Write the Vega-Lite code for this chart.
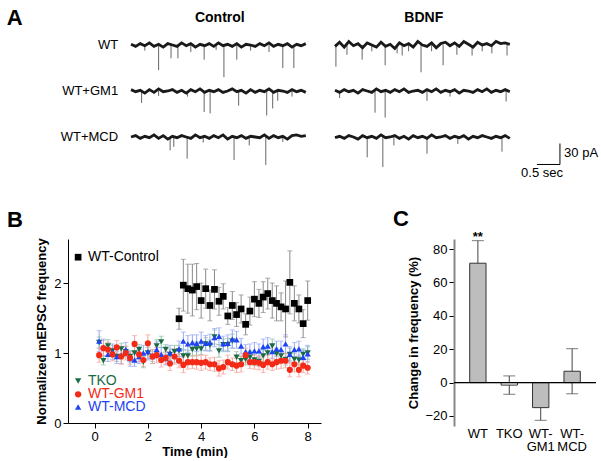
{
"$schema": "https://vega.github.io/schema/vega-lite/v6.json",
"background": "white",
"padding": {"left": 6, "top": 7, "right": 0, "bottom": 0},
"spacing": 27,
"config": {
  "view": {"stroke": null},
  "font": "Liberation Sans",
  "axis": {"labelFont": "Liberation Sans", "titleFont": "Liberation Sans", "labelFontSize": 13, "titleFontSize": 13, "labelColor": "black", "titleColor": "black", "grid": false, "tickColor": "black", "domainColor": "black", "labelOverlap": false},
  "text": {"font": "Liberation Sans"}
},
"datasets": {
  "traces": [
    {"cond":"Control","geno":"WT","kind":"n","t":0,"pA":1},{"cond":"Control","geno":"WT","kind":"n","t":0.1,"pA":-2},{"cond":"Control","geno":"WT","kind":"n","t":0.2,"pA":2},{"cond":"Control","geno":"WT","kind":"n","t":0.3,"pA":-1},{"cond":"Control","geno":"WT","kind":"n","t":0.4,"pA":3},{"cond":"Control","geno":"WT","kind":"n","t":0.5,"pA":-2},{"cond":"Control","geno":"WT","kind":"n","t":0.6,"pA":1},{"cond":"Control","geno":"WT","kind":"n","t":0.7,"pA":-3},{"cond":"Control","geno":"WT","kind":"n","t":0.8,"pA":2},{"cond":"Control","geno":"WT","kind":"n","t":0.9,"pA":0},{"cond":"Control","geno":"WT","kind":"n","t":1.0,"pA":-2},{"cond":"Control","geno":"WT","kind":"n","t":1.1,"pA":3},{"cond":"Control","geno":"WT","kind":"n","t":1.2,"pA":-1},{"cond":"Control","geno":"WT","kind":"n","t":1.3,"pA":2},{"cond":"Control","geno":"WT","kind":"n","t":1.4,"pA":-3},{"cond":"Control","geno":"WT","kind":"n","t":1.5,"pA":1},{"cond":"Control","geno":"WT","kind":"n","t":1.6,"pA":-1},{"cond":"Control","geno":"WT","kind":"n","t":1.7,"pA":2},{"cond":"Control","geno":"WT","kind":"n","t":1.8,"pA":-2},{"cond":"Control","geno":"WT","kind":"n","t":1.9,"pA":3},{"cond":"Control","geno":"WT","kind":"n","t":2.0,"pA":-1},{"cond":"Control","geno":"WT","kind":"n","t":2.1,"pA":1},{"cond":"Control","geno":"WT","kind":"n","t":2.2,"pA":-2},{"cond":"Control","geno":"WT","kind":"n","t":2.3,"pA":2},{"cond":"Control","geno":"WT","kind":"n","t":2.4,"pA":-3},{"cond":"Control","geno":"WT","kind":"n","t":2.5,"pA":1},{"cond":"Control","geno":"WT","kind":"n","t":2.6,"pA":0},{"cond":"Control","geno":"WT","kind":"n","t":2.7,"pA":-2},{"cond":"Control","geno":"WT","kind":"n","t":2.8,"pA":2},{"cond":"Control","geno":"WT","kind":"n","t":2.9,"pA":-1},{"cond":"Control","geno":"WT","kind":"n","t":3.0,"pA":3},{"cond":"Control","geno":"WT","kind":"n","t":3.1,"pA":-2},{"cond":"Control","geno":"WT","kind":"n","t":3.2,"pA":1},{"cond":"Control","geno":"WT","kind":"n","t":3.3,"pA":-1},{"cond":"Control","geno":"WT","kind":"n","t":3.4,"pA":2},{"cond":"Control","geno":"WT","kind":"n","t":3.5,"pA":-3},{"cond":"Control","geno":"WT","kind":"n","t":3.6,"pA":1},{"cond":"Control","geno":"WT","kind":"n","t":3.7,"pA":-1},{"cond":"Control","geno":"WT","kind":"n","t":3.8,"pA":2},
    {"cond":"Control","geno":"WT+GM1","kind":"n","t":0,"pA":2},{"cond":"Control","geno":"WT+GM1","kind":"n","t":0.1,"pA":-1},{"cond":"Control","geno":"WT+GM1","kind":"n","t":0.2,"pA":1},{"cond":"Control","geno":"WT+GM1","kind":"n","t":0.3,"pA":-3},{"cond":"Control","geno":"WT+GM1","kind":"n","t":0.4,"pA":2},{"cond":"Control","geno":"WT+GM1","kind":"n","t":0.5,"pA":-2},{"cond":"Control","geno":"WT+GM1","kind":"n","t":0.6,"pA":3},{"cond":"Control","geno":"WT+GM1","kind":"n","t":0.7,"pA":-1},{"cond":"Control","geno":"WT+GM1","kind":"n","t":0.8,"pA":0},{"cond":"Control","geno":"WT+GM1","kind":"n","t":0.9,"pA":2},{"cond":"Control","geno":"WT+GM1","kind":"n","t":1.0,"pA":-2},{"cond":"Control","geno":"WT+GM1","kind":"n","t":1.1,"pA":1},{"cond":"Control","geno":"WT+GM1","kind":"n","t":1.2,"pA":-3},{"cond":"Control","geno":"WT+GM1","kind":"n","t":1.3,"pA":2},{"cond":"Control","geno":"WT+GM1","kind":"n","t":1.4,"pA":-1},{"cond":"Control","geno":"WT+GM1","kind":"n","t":1.5,"pA":3},{"cond":"Control","geno":"WT+GM1","kind":"n","t":1.6,"pA":-2},{"cond":"Control","geno":"WT+GM1","kind":"n","t":1.7,"pA":1},{"cond":"Control","geno":"WT+GM1","kind":"n","t":1.8,"pA":-1},{"cond":"Control","geno":"WT+GM1","kind":"n","t":1.9,"pA":2},{"cond":"Control","geno":"WT+GM1","kind":"n","t":2.0,"pA":-2},{"cond":"Control","geno":"WT+GM1","kind":"n","t":2.1,"pA":0},{"cond":"Control","geno":"WT+GM1","kind":"n","t":2.2,"pA":3},{"cond":"Control","geno":"WT+GM1","kind":"n","t":2.3,"pA":-1},{"cond":"Control","geno":"WT+GM1","kind":"n","t":2.4,"pA":1},{"cond":"Control","geno":"WT+GM1","kind":"n","t":2.5,"pA":-3},{"cond":"Control","geno":"WT+GM1","kind":"n","t":2.6,"pA":2},{"cond":"Control","geno":"WT+GM1","kind":"n","t":2.7,"pA":-2},{"cond":"Control","geno":"WT+GM1","kind":"n","t":2.8,"pA":1},{"cond":"Control","geno":"WT+GM1","kind":"n","t":2.9,"pA":-1},{"cond":"Control","geno":"WT+GM1","kind":"n","t":3.0,"pA":3},{"cond":"Control","geno":"WT+GM1","kind":"n","t":3.1,"pA":-2},{"cond":"Control","geno":"WT+GM1","kind":"n","t":3.2,"pA":1},{"cond":"Control","geno":"WT+GM1","kind":"n","t":3.3,"pA":0},{"cond":"Control","geno":"WT+GM1","kind":"n","t":3.4,"pA":-2},{"cond":"Control","geno":"WT+GM1","kind":"n","t":3.5,"pA":2},{"cond":"Control","geno":"WT+GM1","kind":"n","t":3.6,"pA":-1},{"cond":"Control","geno":"WT+GM1","kind":"n","t":3.7,"pA":1},{"cond":"Control","geno":"WT+GM1","kind":"n","t":3.8,"pA":-2},
    {"cond":"Control","geno":"WT+MCD","kind":"n","t":0,"pA":0},{"cond":"Control","geno":"WT+MCD","kind":"n","t":0.1,"pA":2},{"cond":"Control","geno":"WT+MCD","kind":"n","t":0.2,"pA":-2},{"cond":"Control","geno":"WT+MCD","kind":"n","t":0.3,"pA":1},{"cond":"Control","geno":"WT+MCD","kind":"n","t":0.4,"pA":-1},{"cond":"Control","geno":"WT+MCD","kind":"n","t":0.5,"pA":3},{"cond":"Control","geno":"WT+MCD","kind":"n","t":0.6,"pA":-2},{"cond":"Control","geno":"WT+MCD","kind":"n","t":0.7,"pA":2},{"cond":"Control","geno":"WT+MCD","kind":"n","t":0.8,"pA":-3},{"cond":"Control","geno":"WT+MCD","kind":"n","t":0.9,"pA":1},{"cond":"Control","geno":"WT+MCD","kind":"n","t":1.0,"pA":-1},{"cond":"Control","geno":"WT+MCD","kind":"n","t":1.1,"pA":2},{"cond":"Control","geno":"WT+MCD","kind":"n","t":1.2,"pA":0},{"cond":"Control","geno":"WT+MCD","kind":"n","t":1.3,"pA":-2},{"cond":"Control","geno":"WT+MCD","kind":"n","t":1.4,"pA":3},{"cond":"Control","geno":"WT+MCD","kind":"n","t":1.5,"pA":-1},{"cond":"Control","geno":"WT+MCD","kind":"n","t":1.6,"pA":1},{"cond":"Control","geno":"WT+MCD","kind":"n","t":1.7,"pA":-2},{"cond":"Control","geno":"WT+MCD","kind":"n","t":1.8,"pA":2},{"cond":"Control","geno":"WT+MCD","kind":"n","t":1.9,"pA":-1},{"cond":"Control","geno":"WT+MCD","kind":"n","t":2.0,"pA":3},{"cond":"Control","geno":"WT+MCD","kind":"n","t":2.1,"pA":-3},{"cond":"Control","geno":"WT+MCD","kind":"n","t":2.2,"pA":1},{"cond":"Control","geno":"WT+MCD","kind":"n","t":2.3,"pA":-1},{"cond":"Control","geno":"WT+MCD","kind":"n","t":2.4,"pA":2},{"cond":"Control","geno":"WT+MCD","kind":"n","t":2.5,"pA":-2},{"cond":"Control","geno":"WT+MCD","kind":"n","t":2.6,"pA":1},{"cond":"Control","geno":"WT+MCD","kind":"n","t":2.7,"pA":0},{"cond":"Control","geno":"WT+MCD","kind":"n","t":2.8,"pA":-1},{"cond":"Control","geno":"WT+MCD","kind":"n","t":2.9,"pA":3},{"cond":"Control","geno":"WT+MCD","kind":"n","t":3.0,"pA":-2},{"cond":"Control","geno":"WT+MCD","kind":"n","t":3.1,"pA":2},{"cond":"Control","geno":"WT+MCD","kind":"n","t":3.2,"pA":-1},{"cond":"Control","geno":"WT+MCD","kind":"n","t":3.3,"pA":1},{"cond":"Control","geno":"WT+MCD","kind":"n","t":3.4,"pA":-3},{"cond":"Control","geno":"WT+MCD","kind":"n","t":3.5,"pA":2},{"cond":"Control","geno":"WT+MCD","kind":"n","t":3.6,"pA":3},{"cond":"Control","geno":"WT+MCD","kind":"n","t":3.7,"pA":1},{"cond":"Control","geno":"WT+MCD","kind":"n","t":3.8,"pA":2},
    {"cond":"BDNF","geno":"WT","kind":"n","t":0,"pA":-2},{"cond":"BDNF","geno":"WT","kind":"n","t":0.1,"pA":4},{"cond":"BDNF","geno":"WT","kind":"n","t":0.2,"pA":-3},{"cond":"BDNF","geno":"WT","kind":"n","t":0.3,"pA":5},{"cond":"BDNF","geno":"WT","kind":"n","t":0.4,"pA":-1},{"cond":"BDNF","geno":"WT","kind":"n","t":0.5,"pA":2},{"cond":"BDNF","geno":"WT","kind":"n","t":0.6,"pA":-4},{"cond":"BDNF","geno":"WT","kind":"n","t":0.7,"pA":3},{"cond":"BDNF","geno":"WT","kind":"n","t":0.8,"pA":0},{"cond":"BDNF","geno":"WT","kind":"n","t":0.9,"pA":-3},{"cond":"BDNF","geno":"WT","kind":"n","t":1.0,"pA":4},{"cond":"BDNF","geno":"WT","kind":"n","t":1.1,"pA":-2},{"cond":"BDNF","geno":"WT","kind":"n","t":1.2,"pA":1},{"cond":"BDNF","geno":"WT","kind":"n","t":1.3,"pA":-5},{"cond":"BDNF","geno":"WT","kind":"n","t":1.4,"pA":3},{"cond":"BDNF","geno":"WT","kind":"n","t":1.5,"pA":-1},{"cond":"BDNF","geno":"WT","kind":"n","t":1.6,"pA":2},{"cond":"BDNF","geno":"WT","kind":"n","t":1.7,"pA":-3},{"cond":"BDNF","geno":"WT","kind":"n","t":1.8,"pA":5},{"cond":"BDNF","geno":"WT","kind":"n","t":1.9,"pA":0},{"cond":"BDNF","geno":"WT","kind":"n","t":2.0,"pA":-2},{"cond":"BDNF","geno":"WT","kind":"n","t":2.1,"pA":3},{"cond":"BDNF","geno":"WT","kind":"n","t":2.2,"pA":-4},{"cond":"BDNF","geno":"WT","kind":"n","t":2.3,"pA":2},{"cond":"BDNF","geno":"WT","kind":"n","t":2.4,"pA":4},{"cond":"BDNF","geno":"WT","kind":"n","t":2.5,"pA":-1},{"cond":"BDNF","geno":"WT","kind":"n","t":2.6,"pA":3},{"cond":"BDNF","geno":"WT","kind":"n","t":2.7,"pA":-2},{"cond":"BDNF","geno":"WT","kind":"n","t":2.8,"pA":5},{"cond":"BDNF","geno":"WT","kind":"n","t":2.9,"pA":1},{"cond":"BDNF","geno":"WT","kind":"n","t":3.0,"pA":-3},{"cond":"BDNF","geno":"WT","kind":"n","t":3.1,"pA":4},{"cond":"BDNF","geno":"WT","kind":"n","t":3.2,"pA":0},{"cond":"BDNF","geno":"WT","kind":"n","t":3.3,"pA":2},{"cond":"BDNF","geno":"WT","kind":"n","t":3.4,"pA":-1},{"cond":"BDNF","geno":"WT","kind":"n","t":3.5,"pA":5},{"cond":"BDNF","geno":"WT","kind":"n","t":3.6,"pA":2},{"cond":"BDNF","geno":"WT","kind":"n","t":3.7,"pA":3},{"cond":"BDNF","geno":"WT","kind":"n","t":3.8,"pA":1},
    {"cond":"BDNF","geno":"WT+GM1","kind":"n","t":0,"pA":1},{"cond":"BDNF","geno":"WT+GM1","kind":"n","t":0.1,"pA":-2},{"cond":"BDNF","geno":"WT+GM1","kind":"n","t":0.2,"pA":2},{"cond":"BDNF","geno":"WT+GM1","kind":"n","t":0.3,"pA":-1},{"cond":"BDNF","geno":"WT+GM1","kind":"n","t":0.4,"pA":1},{"cond":"BDNF","geno":"WT+GM1","kind":"n","t":0.5,"pA":-3},{"cond":"BDNF","geno":"WT+GM1","kind":"n","t":0.6,"pA":2},{"cond":"BDNF","geno":"WT+GM1","kind":"n","t":0.7,"pA":0},{"cond":"BDNF","geno":"WT+GM1","kind":"n","t":0.8,"pA":-2},{"cond":"BDNF","geno":"WT+GM1","kind":"n","t":0.9,"pA":3},{"cond":"BDNF","geno":"WT+GM1","kind":"n","t":1.0,"pA":-1},{"cond":"BDNF","geno":"WT+GM1","kind":"n","t":1.1,"pA":1},{"cond":"BDNF","geno":"WT+GM1","kind":"n","t":1.2,"pA":-2},{"cond":"BDNF","geno":"WT+GM1","kind":"n","t":1.3,"pA":2},{"cond":"BDNF","geno":"WT+GM1","kind":"n","t":1.4,"pA":-1},{"cond":"BDNF","geno":"WT+GM1","kind":"n","t":1.5,"pA":3},{"cond":"BDNF","geno":"WT+GM1","kind":"n","t":1.6,"pA":-2},{"cond":"BDNF","geno":"WT+GM1","kind":"n","t":1.7,"pA":0},{"cond":"BDNF","geno":"WT+GM1","kind":"n","t":1.8,"pA":1},{"cond":"BDNF","geno":"WT+GM1","kind":"n","t":1.9,"pA":-2},{"cond":"BDNF","geno":"WT+GM1","kind":"n","t":2.0,"pA":2},{"cond":"BDNF","geno":"WT+GM1","kind":"n","t":2.1,"pA":-1},{"cond":"BDNF","geno":"WT+GM1","kind":"n","t":2.2,"pA":3},{"cond":"BDNF","geno":"WT+GM1","kind":"n","t":2.3,"pA":-2},{"cond":"BDNF","geno":"WT+GM1","kind":"n","t":2.4,"pA":1},{"cond":"BDNF","geno":"WT+GM1","kind":"n","t":2.5,"pA":-1},{"cond":"BDNF","geno":"WT+GM1","kind":"n","t":2.6,"pA":2},{"cond":"BDNF","geno":"WT+GM1","kind":"n","t":2.7,"pA":-3},{"cond":"BDNF","geno":"WT+GM1","kind":"n","t":2.8,"pA":1},{"cond":"BDNF","geno":"WT+GM1","kind":"n","t":2.9,"pA":0},{"cond":"BDNF","geno":"WT+GM1","kind":"n","t":3.0,"pA":-2},{"cond":"BDNF","geno":"WT+GM1","kind":"n","t":3.1,"pA":2},{"cond":"BDNF","geno":"WT+GM1","kind":"n","t":3.2,"pA":-1},{"cond":"BDNF","geno":"WT+GM1","kind":"n","t":3.3,"pA":3},{"cond":"BDNF","geno":"WT+GM1","kind":"n","t":3.4,"pA":-2},{"cond":"BDNF","geno":"WT+GM1","kind":"n","t":3.5,"pA":1},{"cond":"BDNF","geno":"WT+GM1","kind":"n","t":3.6,"pA":-1},{"cond":"BDNF","geno":"WT+GM1","kind":"n","t":3.7,"pA":2},{"cond":"BDNF","geno":"WT+GM1","kind":"n","t":3.8,"pA":-1},
    {"cond":"BDNF","geno":"WT+MCD","kind":"n","t":0,"pA":-1},{"cond":"BDNF","geno":"WT+MCD","kind":"n","t":0.1,"pA":1},{"cond":"BDNF","geno":"WT+MCD","kind":"n","t":0.2,"pA":-2},{"cond":"BDNF","geno":"WT+MCD","kind":"n","t":0.3,"pA":2},{"cond":"BDNF","geno":"WT+MCD","kind":"n","t":0.4,"pA":0},{"cond":"BDNF","geno":"WT+MCD","kind":"n","t":0.5,"pA":-3},{"cond":"BDNF","geno":"WT+MCD","kind":"n","t":0.6,"pA":2},{"cond":"BDNF","geno":"WT+MCD","kind":"n","t":0.7,"pA":-1},{"cond":"BDNF","geno":"WT+MCD","kind":"n","t":0.8,"pA":1},{"cond":"BDNF","geno":"WT+MCD","kind":"n","t":0.9,"pA":-2},{"cond":"BDNF","geno":"WT+MCD","kind":"n","t":1.0,"pA":3},{"cond":"BDNF","geno":"WT+MCD","kind":"n","t":1.1,"pA":-1},{"cond":"BDNF","geno":"WT+MCD","kind":"n","t":1.2,"pA":0},{"cond":"BDNF","geno":"WT+MCD","kind":"n","t":1.3,"pA":2},{"cond":"BDNF","geno":"WT+MCD","kind":"n","t":1.4,"pA":-2},{"cond":"BDNF","geno":"WT+MCD","kind":"n","t":1.5,"pA":1},{"cond":"BDNF","geno":"WT+MCD","kind":"n","t":1.6,"pA":-3},{"cond":"BDNF","geno":"WT+MCD","kind":"n","t":1.7,"pA":2},{"cond":"BDNF","geno":"WT+MCD","kind":"n","t":1.8,"pA":-1},{"cond":"BDNF","geno":"WT+MCD","kind":"n","t":1.9,"pA":1},{"cond":"BDNF","geno":"WT+MCD","kind":"n","t":2.0,"pA":-2},{"cond":"BDNF","geno":"WT+MCD","kind":"n","t":2.1,"pA":3},{"cond":"BDNF","geno":"WT+MCD","kind":"n","t":2.2,"pA":-1},{"cond":"BDNF","geno":"WT+MCD","kind":"n","t":2.3,"pA":0},{"cond":"BDNF","geno":"WT+MCD","kind":"n","t":2.4,"pA":2},{"cond":"BDNF","geno":"WT+MCD","kind":"n","t":2.5,"pA":-2},{"cond":"BDNF","geno":"WT+MCD","kind":"n","t":2.6,"pA":1},{"cond":"BDNF","geno":"WT+MCD","kind":"n","t":2.7,"pA":-1},{"cond":"BDNF","geno":"WT+MCD","kind":"n","t":2.8,"pA":2},{"cond":"BDNF","geno":"WT+MCD","kind":"n","t":2.9,"pA":-3},{"cond":"BDNF","geno":"WT+MCD","kind":"n","t":3.0,"pA":1},{"cond":"BDNF","geno":"WT+MCD","kind":"n","t":3.1,"pA":-1},{"cond":"BDNF","geno":"WT+MCD","kind":"n","t":3.2,"pA":2},{"cond":"BDNF","geno":"WT+MCD","kind":"n","t":3.3,"pA":0},{"cond":"BDNF","geno":"WT+MCD","kind":"n","t":3.4,"pA":-2},{"cond":"BDNF","geno":"WT+MCD","kind":"n","t":3.5,"pA":1},{"cond":"BDNF","geno":"WT+MCD","kind":"n","t":3.6,"pA":-1},{"cond":"BDNF","geno":"WT+MCD","kind":"n","t":3.7,"pA":2},{"cond":"BDNF","geno":"WT+MCD","kind":"n","t":3.8,"pA":-2},
    {"cond":"Control","geno":"WT","kind":"e","t":0.3,"pA":-8},{"cond":"Control","geno":"WT","kind":"e","t":0.6,"pA":-36},{"cond":"Control","geno":"WT","kind":"e","t":0.87,"pA":-19},{"cond":"Control","geno":"WT","kind":"e","t":1.02,"pA":-19},{"cond":"Control","geno":"WT","kind":"e","t":1.3,"pA":-10},{"cond":"Control","geno":"WT","kind":"e","t":1.59,"pA":-21},{"cond":"Control","geno":"WT","kind":"e","t":1.85,"pA":-7},{"cond":"Control","geno":"WT","kind":"e","t":2.02,"pA":-46},{"cond":"Control","geno":"WT","kind":"e","t":2.3,"pA":-21},{"cond":"Control","geno":"WT","kind":"e","t":2.6,"pA":-8},{"cond":"Control","geno":"WT","kind":"e","t":3.0,"pA":-10},{"cond":"Control","geno":"WT","kind":"e","t":3.3,"pA":-33},{"cond":"Control","geno":"WT","kind":"e","t":3.54,"pA":-33},
    {"cond":"Control","geno":"WT+GM1","kind":"e","t":0.23,"pA":-17},{"cond":"Control","geno":"WT+GM1","kind":"e","t":0.6,"pA":-7},{"cond":"Control","geno":"WT+GM1","kind":"e","t":1.23,"pA":-8},{"cond":"Control","geno":"WT+GM1","kind":"e","t":1.59,"pA":-30},{"cond":"Control","geno":"WT+GM1","kind":"e","t":1.72,"pA":-32},{"cond":"Control","geno":"WT+GM1","kind":"e","t":2.34,"pA":-21},{"cond":"Control","geno":"WT+GM1","kind":"e","t":2.95,"pA":-35},{"cond":"Control","geno":"WT+GM1","kind":"e","t":3.08,"pA":-25},{"cond":"Control","geno":"WT+GM1","kind":"e","t":3.19,"pA":-14},{"cond":"Control","geno":"WT+GM1","kind":"e","t":3.5,"pA":-8},
    {"cond":"Control","geno":"WT+MCD","kind":"e","t":0.85,"pA":-19},{"cond":"Control","geno":"WT+MCD","kind":"e","t":0.93,"pA":-14},{"cond":"Control","geno":"WT+MCD","kind":"e","t":1.22,"pA":-31},{"cond":"Control","geno":"WT+MCD","kind":"e","t":1.57,"pA":-8},{"cond":"Control","geno":"WT+MCD","kind":"e","t":2.24,"pA":-33},{"cond":"Control","geno":"WT+MCD","kind":"e","t":2.57,"pA":-12},{"cond":"Control","geno":"WT+MCD","kind":"e","t":2.93,"pA":-40},{"cond":"Control","geno":"WT+MCD","kind":"e","t":3.3,"pA":-7},
    {"cond":"BDNF","geno":"WT","kind":"e","t":0.02,"pA":-31},{"cond":"BDNF","geno":"WT","kind":"e","t":0.26,"pA":-14},{"cond":"BDNF","geno":"WT","kind":"e","t":0.59,"pA":-21},{"cond":"BDNF","geno":"WT","kind":"e","t":0.8,"pA":-9},{"cond":"BDNF","geno":"WT","kind":"e","t":1.09,"pA":-29},{"cond":"BDNF","geno":"WT","kind":"e","t":1.35,"pA":-12},{"cond":"BDNF","geno":"WT","kind":"e","t":1.46,"pA":-15},{"cond":"BDNF","geno":"WT","kind":"e","t":1.6,"pA":-9},{"cond":"BDNF","geno":"WT","kind":"e","t":1.87,"pA":-39},{"cond":"BDNF","geno":"WT","kind":"e","t":2.1,"pA":-9},{"cond":"BDNF","geno":"WT","kind":"e","t":2.35,"pA":-29},{"cond":"BDNF","geno":"WT","kind":"e","t":2.65,"pA":-14},{"cond":"BDNF","geno":"WT","kind":"e","t":2.98,"pA":-15},{"cond":"BDNF","geno":"WT","kind":"e","t":3.2,"pA":-9},{"cond":"BDNF","geno":"WT","kind":"e","t":3.41,"pA":-12},{"cond":"BDNF","geno":"WT","kind":"e","t":3.74,"pA":-15},
    {"cond":"BDNF","geno":"WT+GM1","kind":"e","t":0.1,"pA":-10},{"cond":"BDNF","geno":"WT+GM1","kind":"e","t":0.87,"pA":-31},{"cond":"BDNF","geno":"WT+GM1","kind":"e","t":1.09,"pA":-38},{"cond":"BDNF","geno":"WT+GM1","kind":"e","t":2.0,"pA":-14},{"cond":"BDNF","geno":"WT+GM1","kind":"e","t":2.5,"pA":-8},{"cond":"BDNF","geno":"WT+GM1","kind":"e","t":3.72,"pA":-15},
    {"cond":"BDNF","geno":"WT+MCD","kind":"e","t":0.7,"pA":-29},{"cond":"BDNF","geno":"WT+MCD","kind":"e","t":1.04,"pA":-43},{"cond":"BDNF","geno":"WT+MCD","kind":"e","t":1.28,"pA":-12},{"cond":"BDNF","geno":"WT+MCD","kind":"e","t":2.0,"pA":-24},{"cond":"BDNF","geno":"WT+MCD","kind":"e","t":2.67,"pA":-10},{"cond":"BDNF","geno":"WT+MCD","kind":"e","t":3.63,"pA":-21}
  ],
  "mepsc": [
    {"series":"TKO","t":0.17,"v":1.15,"e":0.08},{"series":"TKO","t":0.33,"v":0.89,"e":0.06},{"series":"TKO","t":0.5,"v":1.1,"e":0.09},{"series":"TKO","t":0.67,"v":1.03,"e":0.08},{"series":"TKO","t":0.83,"v":0.95,"e":0.07},{"series":"TKO","t":1.0,"v":1.06,"e":0.08},{"series":"TKO","t":1.17,"v":1.02,"e":0.07},{"series":"TKO","t":1.33,"v":0.95,"e":0.08},{"series":"TKO","t":1.5,"v":1.0,"e":0.09},{"series":"TKO","t":1.67,"v":1.05,"e":0.07},{"series":"TKO","t":1.83,"v":0.87,"e":0.08},{"series":"TKO","t":2.0,"v":1.0,"e":0.08},{"series":"TKO","t":2.17,"v":0.95,"e":0.07},{"series":"TKO","t":2.33,"v":1.1,"e":0.09},{"series":"TKO","t":2.5,"v":1.16,"e":0.08},{"series":"TKO","t":2.67,"v":1.05,"e":0.07},{"series":"TKO","t":2.83,"v":0.98,"e":0.08},{"series":"TKO","t":3.0,"v":1.02,"e":0.09},{"series":"TKO","t":3.17,"v":1.03,"e":0.08},{"series":"TKO","t":3.33,"v":0.96,"e":0.09},{"series":"TKO","t":3.5,"v":0.96,"e":0.08},{"series":"TKO","t":3.67,"v":1.05,"e":0.09},{"series":"TKO","t":3.83,"v":1.06,"e":0.1},{"series":"TKO","t":4.0,"v":1.06,"e":0.08},{"series":"TKO","t":4.17,"v":1.13,"e":0.09},{"series":"TKO","t":4.33,"v":1.11,"e":0.08},{"series":"TKO","t":4.5,"v":1.23,"e":0.1},{"series":"TKO","t":4.67,"v":1.03,"e":0.09},{"series":"TKO","t":4.83,"v":1.12,"e":0.08},{"series":"TKO","t":5.0,"v":1.12,"e":0.09},{"series":"TKO","t":5.17,"v":1.17,"e":0.1},{"series":"TKO","t":5.33,"v":0.94,"e":0.08},{"series":"TKO","t":5.5,"v":0.89,"e":0.07},{"series":"TKO","t":5.67,"v":0.91,"e":0.08},{"series":"TKO","t":5.83,"v":0.94,"e":0.09},{"series":"TKO","t":6.0,"v":0.9,"e":0.08},{"series":"TKO","t":6.17,"v":0.88,"e":0.07},{"series":"TKO","t":6.33,"v":0.96,"e":0.08},{"series":"TKO","t":6.5,"v":1.0,"e":0.09},{"series":"TKO","t":6.67,"v":1.1,"e":0.1},{"series":"TKO","t":6.83,"v":0.99,"e":0.08},{"series":"TKO","t":7.0,"v":0.96,"e":0.07},{"series":"TKO","t":7.17,"v":0.91,"e":0.08},{"series":"TKO","t":7.33,"v":0.98,"e":0.09},{"series":"TKO","t":7.5,"v":0.91,"e":0.08},{"series":"TKO","t":7.67,"v":0.9,"e":0.07},{"series":"TKO","t":7.83,"v":0.98,"e":0.08},{"series":"TKO","t":8.0,"v":1.0,"e":0.09},
    {"series":"WT-MCD","t":0.17,"v":1.17,"e":0.15},{"series":"WT-MCD","t":0.33,"v":1.08,"e":0.12},{"series":"WT-MCD","t":0.5,"v":0.98,"e":0.1},{"series":"WT-MCD","t":0.67,"v":1.02,"e":0.11},{"series":"WT-MCD","t":0.83,"v":0.95,"e":0.1},{"series":"WT-MCD","t":1.0,"v":0.97,"e":0.12},{"series":"WT-MCD","t":1.17,"v":1.05,"e":0.1},{"series":"WT-MCD","t":1.33,"v":0.92,"e":0.11},{"series":"WT-MCD","t":1.5,"v":0.9,"e":0.09},{"series":"WT-MCD","t":1.67,"v":0.95,"e":0.1},{"series":"WT-MCD","t":1.83,"v":1.0,"e":0.11},{"series":"WT-MCD","t":2.0,"v":1.02,"e":0.12},{"series":"WT-MCD","t":2.17,"v":0.95,"e":0.1},{"series":"WT-MCD","t":2.33,"v":1.05,"e":0.11},{"series":"WT-MCD","t":2.5,"v":0.98,"e":0.1},{"series":"WT-MCD","t":2.67,"v":0.92,"e":0.09},{"series":"WT-MCD","t":2.83,"v":1.0,"e":0.11},{"series":"WT-MCD","t":3.0,"v":0.96,"e":0.1},{"series":"WT-MCD","t":3.17,"v":1.06,"e":0.11},{"series":"WT-MCD","t":3.33,"v":1.17,"e":0.13},{"series":"WT-MCD","t":3.5,"v":1.13,"e":0.12},{"series":"WT-MCD","t":3.67,"v":1.15,"e":0.11},{"series":"WT-MCD","t":3.83,"v":1.14,"e":0.12},{"series":"WT-MCD","t":4.0,"v":1.17,"e":0.13},{"series":"WT-MCD","t":4.17,"v":1.14,"e":0.11},{"series":"WT-MCD","t":4.33,"v":1.15,"e":0.12},{"series":"WT-MCD","t":4.5,"v":1.22,"e":0.13},{"series":"WT-MCD","t":4.67,"v":1.24,"e":0.12},{"series":"WT-MCD","t":4.83,"v":1.13,"e":0.11},{"series":"WT-MCD","t":5.0,"v":1.14,"e":0.12},{"series":"WT-MCD","t":5.17,"v":1.2,"e":0.13},{"series":"WT-MCD","t":5.33,"v":1.19,"e":0.12},{"series":"WT-MCD","t":5.5,"v":1.1,"e":0.11},{"series":"WT-MCD","t":5.67,"v":1.02,"e":0.1},{"series":"WT-MCD","t":5.83,"v":1.02,"e":0.11},{"series":"WT-MCD","t":6.0,"v":1.03,"e":0.12},{"series":"WT-MCD","t":6.17,"v":1.03,"e":0.1},{"series":"WT-MCD","t":6.33,"v":1.09,"e":0.11},{"series":"WT-MCD","t":6.5,"v":1.1,"e":0.12},{"series":"WT-MCD","t":6.67,"v":1.02,"e":0.1},{"series":"WT-MCD","t":6.83,"v":1.06,"e":0.11},{"series":"WT-MCD","t":7.0,"v":1.05,"e":0.12},{"series":"WT-MCD","t":7.17,"v":1.13,"e":0.13},{"series":"WT-MCD","t":7.33,"v":0.98,"e":0.11},{"series":"WT-MCD","t":7.5,"v":1.05,"e":0.1},{"series":"WT-MCD","t":7.67,"v":1.06,"e":0.11},{"series":"WT-MCD","t":7.83,"v":0.94,"e":0.1},{"series":"WT-MCD","t":8.0,"v":0.99,"e":0.12},
    {"series":"WT-GM1","t":0.17,"v":0.97,"e":0.1},{"series":"WT-GM1","t":0.33,"v":1.07,"e":0.11},{"series":"WT-GM1","t":0.5,"v":1.05,"e":0.1},{"series":"WT-GM1","t":0.67,"v":0.98,"e":0.09},{"series":"WT-GM1","t":0.83,"v":1.08,"e":0.1},{"series":"WT-GM1","t":1.0,"v":0.95,"e":0.11},{"series":"WT-GM1","t":1.17,"v":1.0,"e":0.1},{"series":"WT-GM1","t":1.33,"v":0.93,"e":0.09},{"series":"WT-GM1","t":1.5,"v":1.13,"e":0.12},{"series":"WT-GM1","t":1.67,"v":0.98,"e":0.1},{"series":"WT-GM1","t":1.83,"v":0.9,"e":0.09},{"series":"WT-GM1","t":2.0,"v":1.14,"e":0.12},{"series":"WT-GM1","t":2.17,"v":0.95,"e":0.1},{"series":"WT-GM1","t":2.33,"v":0.97,"e":0.11},{"series":"WT-GM1","t":2.5,"v":0.9,"e":0.1},{"series":"WT-GM1","t":2.67,"v":0.93,"e":0.09},{"series":"WT-GM1","t":2.83,"v":0.85,"e":0.1},{"series":"WT-GM1","t":3.0,"v":0.95,"e":0.11},{"series":"WT-GM1","t":3.17,"v":0.89,"e":0.1},{"series":"WT-GM1","t":3.33,"v":0.83,"e":0.11},{"series":"WT-GM1","t":3.5,"v":0.87,"e":0.1},{"series":"WT-GM1","t":3.67,"v":0.87,"e":0.09},{"series":"WT-GM1","t":3.83,"v":0.87,"e":0.1},{"series":"WT-GM1","t":4.0,"v":0.86,"e":0.11},{"series":"WT-GM1","t":4.17,"v":0.87,"e":0.1},{"series":"WT-GM1","t":4.33,"v":0.84,"e":0.09},{"series":"WT-GM1","t":4.5,"v":0.84,"e":0.1},{"series":"WT-GM1","t":4.67,"v":0.78,"e":0.11},{"series":"WT-GM1","t":4.83,"v":0.8,"e":0.1},{"series":"WT-GM1","t":5.0,"v":0.87,"e":0.1},{"series":"WT-GM1","t":5.17,"v":0.84,"e":0.09},{"series":"WT-GM1","t":5.33,"v":0.82,"e":0.1},{"series":"WT-GM1","t":5.5,"v":0.84,"e":0.11},{"series":"WT-GM1","t":5.67,"v":0.97,"e":0.1},{"series":"WT-GM1","t":5.83,"v":0.87,"e":0.09},{"series":"WT-GM1","t":6.0,"v":0.87,"e":0.1},{"series":"WT-GM1","t":6.17,"v":0.86,"e":0.1},{"series":"WT-GM1","t":6.33,"v":0.83,"e":0.11},{"series":"WT-GM1","t":6.5,"v":0.87,"e":0.1},{"series":"WT-GM1","t":6.67,"v":0.84,"e":0.09},{"series":"WT-GM1","t":6.83,"v":0.87,"e":0.1},{"series":"WT-GM1","t":7.0,"v":0.89,"e":0.11},{"series":"WT-GM1","t":7.17,"v":0.89,"e":0.1},{"series":"WT-GM1","t":7.33,"v":0.76,"e":0.1},{"series":"WT-GM1","t":7.5,"v":0.84,"e":0.11},{"series":"WT-GM1","t":7.67,"v":0.76,"e":0.1},{"series":"WT-GM1","t":7.83,"v":0.82,"e":0.1},{"series":"WT-GM1","t":8.0,"v":0.79,"e":0.09},
    {"series":"WT-Control","t":3.17,"v":1.49,"e":0.15},{"series":"WT-Control","t":3.33,"v":1.97,"e":0.37},{"series":"WT-Control","t":3.5,"v":1.92,"e":0.35},{"series":"WT-Control","t":3.67,"v":1.9,"e":0.37},{"series":"WT-Control","t":3.83,"v":1.95,"e":0.33},{"series":"WT-Control","t":4.0,"v":1.75,"e":0.25},{"series":"WT-Control","t":4.17,"v":1.92,"e":0.28},{"series":"WT-Control","t":4.33,"v":1.68,"e":0.22},{"series":"WT-Control","t":4.5,"v":1.91,"e":0.28},{"series":"WT-Control","t":4.67,"v":1.74,"e":0.2},{"series":"WT-Control","t":4.83,"v":1.81,"e":0.18},{"series":"WT-Control","t":5.0,"v":1.53,"e":0.12},{"series":"WT-Control","t":5.17,"v":1.68,"e":0.2},{"series":"WT-Control","t":5.33,"v":1.55,"e":0.17},{"series":"WT-Control","t":5.5,"v":1.63,"e":0.2},{"series":"WT-Control","t":5.67,"v":1.41,"e":0.15},{"series":"WT-Control","t":5.83,"v":1.6,"e":0.2},{"series":"WT-Control","t":6.0,"v":1.77,"e":0.25},{"series":"WT-Control","t":6.17,"v":1.71,"e":0.2},{"series":"WT-Control","t":6.33,"v":1.8,"e":0.22},{"series":"WT-Control","t":6.5,"v":1.85,"e":0.22},{"series":"WT-Control","t":6.67,"v":1.75,"e":0.25},{"series":"WT-Control","t":6.83,"v":1.71,"e":0.25},{"series":"WT-Control","t":7.0,"v":1.66,"e":0.2},{"series":"WT-Control","t":7.17,"v":1.63,"e":0.4},{"series":"WT-Control","t":7.33,"v":2.01,"e":0.45},{"series":"WT-Control","t":7.5,"v":1.71,"e":0.25},{"series":"WT-Control","t":7.67,"v":1.63,"e":0.2},{"series":"WT-Control","t":7.83,"v":1.42,"e":0.2},{"series":"WT-Control","t":8.0,"v":1.75,"e":0.28}
  ],
  "change": [
    {"grp":"WT","chg":71.5,"err":13.5,"sig":"**"},
    {"grp":"TKO","chg":-1.5,"err":5.5,"sig":""},
    {"grp":"WT-GM1","chg":-15,"err":7.6,"sig":""},
    {"grp":"WT-MCD","chg":6.8,"err":13.5,"sig":""}
  ]
},
"vconcat": [
  {
    "spacing": 17,
    "hconcat": [
      {
        "data": {"name": "traces"},
        "transform": [{"filter": "datum.cond === 'Control'"}],
        "facet": {"row": {"field": "geno", "type": "nominal", "sort": ["WT", "WT+GM1", "WT+MCD"], "title": null, "header": null}},
        "spacing": 0,
        "bounds": "flush",
        "spec": {
          "width": 239,
          "height": 46,
          "layer": [
            {
              "transform": [{"filter": "datum.kind === 'e'"}],
              "mark": {"type": "rule", "color": "#666", "strokeWidth": 1},
              "encoding": {
                "x": {"field": "t", "type": "quantitative", "scale": {"domain": [-1.37, 3.826], "nice": false, "zero": false}, "axis": null},
                "y": {"field": "pA", "type": "quantitative", "scale": {"domain": [-32.9, 32.9], "nice": false, "zero": false}, "axis": null},
                "y2": {"datum": 0}
              }
            },
            {
              "transform": [{"filter": "datum.kind === 'n'"}],
              "mark": {"type": "line", "color": "#1a1a1a", "strokeWidth": 2.8},
              "encoding": {
                "x": {"field": "t", "type": "quantitative", "axis": null},
                "y": {"field": "pA", "type": "quantitative", "axis": null}
              }
            },
            {
              "transform": [{"filter": "datum.kind === 'n' && datum.t === 0"}],
              "mark": {"type": "text", "align": "right", "baseline": "middle", "fontSize": 13, "color": "black"},
              "encoding": {"x": {"datum": -0.28}, "y": {"datum": 0}, "text": {"field": "geno"}}
            },
            {
              "transform": [{"filter": "datum.kind === 'n' && datum.t === 0 && datum.geno === 'WT'"}],
              "mark": {"type": "text", "align": "center", "baseline": "alphabetic", "fontSize": 14, "fontWeight": "bold", "color": "black"},
              "encoding": {"x": {"datum": 1.93}, "y": {"datum": 32.9}, "text": {"field": "cond"}}
            },
            {
              "transform": [{"filter": "datum.kind === 'n' && datum.t === 0 && datum.geno === 'WT'"}],
              "mark": {"type": "text", "align": "left", "baseline": "alphabetic", "fontSize": 22, "fontWeight": "bold", "color": "black"},
              "encoding": {"x": {"datum": -2.7}, "y": {"datum": 28.6}, "text": {"value": "A"}}
            }
          ]
        }
      },
      {
        "data": {"name": "traces"},
        "transform": [{"filter": "datum.cond === 'BDNF'"}],
        "facet": {"row": {"field": "geno", "type": "nominal", "sort": ["WT", "WT+GM1", "WT+MCD"], "title": null, "header": null}},
        "spacing": 0,
        "bounds": "flush",
        "spec": {
          "width": 176,
          "height": 46,
          "layer": [
            {
              "transform": [{"filter": "datum.kind === 'e'"}],
              "mark": {"type": "rule", "color": "#666", "strokeWidth": 1},
              "encoding": {
                "x": {"field": "t", "type": "quantitative", "scale": {"domain": [0, 3.826], "nice": false, "zero": false}, "axis": null},
                "y": {"field": "pA", "type": "quantitative", "scale": {"domain": [-32.9, 32.9], "nice": false, "zero": false}, "axis": null},
                "y2": {"datum": 0}
              }
            },
            {
              "transform": [{"filter": "datum.kind === 'n'"}],
              "mark": {"type": "line", "color": "#1a1a1a", "strokeWidth": 2.8},
              "encoding": {
                "x": {"field": "t", "type": "quantitative", "axis": null},
                "y": {"field": "pA", "type": "quantitative", "axis": null}
              }
            },
            {
              "transform": [{"filter": "datum.kind === 'n' && datum.t === 0 && datum.geno === 'WT'"}],
              "mark": {"type": "text", "align": "center", "baseline": "alphabetic", "fontSize": 14, "fontWeight": "bold", "color": "black"},
              "encoding": {"x": {"datum": 1.93}, "y": {"datum": 32.9}, "text": {"field": "cond"}}
            },
            {
              "transform": [{"filter": "datum.geno === 'WT+MCD' && datum.kind === 'n' && datum.t === 0"}],
              "layer": [
                {"mark": {"type": "rule", "color": "black", "strokeWidth": 1}, "encoding": {"x": {"datum": 4.39}, "x2": {"datum": 4.89}, "y": {"datum": -39.3}}},
                {"mark": {"type": "rule", "color": "black", "strokeWidth": 1}, "encoding": {"x": {"datum": 4.89}, "y": {"datum": -39.3}, "y2": {"datum": -9.3}}},
                {"mark": {"type": "text", "align": "left", "baseline": "middle", "fontSize": 13, "color": "black"}, "encoding": {"x": {"datum": 4.98}, "y": {"datum": -22.9}, "text": {"value": "30 pA"}}},
                {"mark": {"type": "text", "align": "center", "baseline": "middle", "fontSize": 13, "color": "black"}, "encoding": {"x": {"datum": 4.5}, "y": {"datum": -51.4}, "text": {"value": "0.5 sec"}}}
              ]
            }
          ]
        }
      }
    ]
  },
  {
    "spacing": 72,
    "hconcat": [
      {
        "width": 253,
        "height": 184,
        "title": {"text": "B", "anchor": "start", "frame": "group", "dx": -61, "dy": -2, "offset": 4, "fontSize": 22, "fontWeight": "bold", "font": "Liberation Sans", "color": "black"},
        "resolve": {"scale": {"color": "independent"}},
        "encoding": {
          "x": {"field": "t", "type": "quantitative", "scale": {"domain": [-1, 8.5], "nice": false, "zero": false}, "axis": {"values": [0, 2, 4, 6, 8], "title": "Time (min)", "titleFontWeight": "bold", "titlePadding": 2, "tickSize": 5, "labelPadding": 2, "format": "d"}},
          "y": {"field": "v", "type": "quantitative", "scale": {"domain": [0, 2.63], "nice": false, "zero": false}, "axis": {"values": [0, 1, 2], "title": "Normalized mEPSC frequency", "titleFontWeight": "bold", "titlePadding": 5, "tickSize": 5, "labelPadding": 2, "format": "d"}}
        },
        "layer": [
          {
            "data": {"name": "mepsc"},
            "transform": [{"filter": "datum.series !== 'WT-Control'"}],
            "mark": {"type": "errorbar", "ticks": {"size": 5}, "thickness": 1},
            "encoding": {
              "yError": {"field": "e"},
              "color": {"field": "series", "type": "nominal", "scale": {"domain": ["TKO", "WT-GM1", "WT-MCD"], "range": ["#8cc2a6", "#f7a39b", "#97a8f5"]}, "legend": null}
            }
          },
          {
            "data": {"name": "mepsc"},
            "transform": [{"filter": "datum.series === 'WT-Control'"}],
            "mark": {"type": "errorbar", "ticks": {"size": 5}, "thickness": 1, "color": "#8a8a8a"},
            "encoding": {
              "yError": {"field": "e"}
            }
          },
          {
            "data": {"name": "mepsc"},
            "transform": [{"filter": "datum.series !== 'WT-Control'"}],
            "mark": {"type": "point", "filled": true, "size": 38, "opacity": 1},
            "encoding": {
              "color": {"field": "series", "type": "nominal", "scale": {"domain": ["TKO", "WT-GM1", "WT-MCD"], "range": ["#1a6b45", "#f22a17", "#1e43f2"]}, "legend": null},
              "shape": {"field": "series", "type": "nominal", "scale": {"domain": ["TKO", "WT-GM1", "WT-MCD"], "range": ["triangle-down", "circle", "triangle-up"]}, "legend": null}
            }
          },
          {
            "data": {"name": "mepsc"},
            "transform": [{"filter": "datum.series === 'WT-Control'"}],
            "mark": {"type": "point", "filled": true, "shape": "square", "size": 45, "opacity": 1, "color": "black"}
          },
          {
            "data": {"name": "mepsc"},
            "transform": [{"filter": "datum.series === 'WT-Control' && datum.t === 3.17"}],
            "layer": [
              {"mark": {"type": "point", "filled": true, "shape": "square", "size": 45, "opacity": 1, "color": "black"}, "encoding": {"x": {"datum": -0.62}, "y": {"datum": 2.37}}},
              {"mark": {"type": "text", "align": "left", "baseline": "middle", "fontSize": 14, "color": "black"}, "encoding": {"x": {"datum": -0.25}, "y": {"datum": 2.37}, "text": {"field": "series"}}}
            ]
          },
          {
            "data": {"name": "mepsc"},
            "transform": [{"filter": "datum.series === 'TKO' && datum.t === 0.17"}],
            "layer": [
              {"mark": {"type": "point", "filled": true, "shape": "triangle-down", "size": 40, "opacity": 1, "color": "#1a6b45"}, "encoding": {"x": {"datum": -0.62}, "y": {"datum": 0.6}}},
              {"mark": {"type": "text", "align": "left", "baseline": "middle", "fontSize": 14, "color": "#1a6b45"}, "encoding": {"x": {"datum": -0.25}, "y": {"datum": 0.6}, "text": {"field": "series"}}}
            ]
          },
          {
            "data": {"name": "mepsc"},
            "transform": [{"filter": "datum.series === 'WT-GM1' && datum.t === 0.17"}],
            "layer": [
              {"mark": {"type": "point", "filled": true, "shape": "circle", "size": 40, "opacity": 1, "color": "#f22a17"}, "encoding": {"x": {"datum": -0.62}, "y": {"datum": 0.41}}},
              {"mark": {"type": "text", "align": "left", "baseline": "middle", "fontSize": 14, "color": "#f22a17"}, "encoding": {"x": {"datum": -0.25}, "y": {"datum": 0.41}, "text": {"field": "series"}}}
            ]
          },
          {
            "data": {"name": "mepsc"},
            "transform": [{"filter": "datum.series === 'WT-MCD' && datum.t === 0.17"}],
            "layer": [
              {"mark": {"type": "point", "filled": true, "shape": "triangle-up", "size": 40, "opacity": 1, "color": "#1e43f2"}, "encoding": {"x": {"datum": -0.62}, "y": {"datum": 0.23}}},
              {"mark": {"type": "text", "align": "left", "baseline": "middle", "fontSize": 14, "color": "#1e43f2"}, "encoding": {"x": {"datum": -0.25}, "y": {"datum": 0.23}, "text": {"field": "series"}}}
            ]
          },
          {
            "data": {"values": [{}]},
            "mark": {"type": "rule", "color": "#9a9a9a", "strokeWidth": 3},
            "encoding": {"x": {"datum": 3}, "x2": {"datum": 8}, "y": {"datum": 2.73}}
          },
          {
            "data": {"values": [{}]},
            "mark": {"type": "text", "fontSize": 13, "fontWeight": "bold", "baseline": "middle", "align": "center", "color": "black"},
            "encoding": {"x": {"datum": 5.55}, "y": {"datum": 2.87}, "text": {"value": "BDNF"}}
          }
        ]
      },
      {
        "width": 142,
        "height": 187,
        "title": {"text": "C", "anchor": "start", "frame": "group", "dx": -61, "dy": 4, "offset": 4, "fontSize": 22, "fontWeight": "bold", "font": "Liberation Sans", "color": "black"},
        "data": {"name": "change"},
        "encoding": {
          "x": {"field": "grp", "type": "nominal", "sort": ["WT", "TKO", "WT-GM1", "WT-MCD"], "scale": {"paddingInner": 0.48, "paddingOuter": 0.5},
            "axis": {"title": null, "domain": false, "ticks": false, "labelAngle": 0, "labelPadding": 1, "labelFontSize": 13, "labelLineHeight": 13,
              "labelExpr": "datum.value === 'WT-GM1' ? ['WT-', 'GM1'] : datum.value === 'WT-MCD' ? ['WT-', 'MCD'] : datum.value"}},
          "y": {"field": "chg", "type": "quantitative", "scale": {"domain": [-26, 86], "nice": false, "zero": false},
            "axis": {"values": [-20, 0, 20, 40, 60, 80], "format": "d", "labelOverlap": false, "title": "Change in frequency (%)", "titleFontWeight": "bold", "titlePadding": 4, "tickSize": 5, "labelPadding": 2, "domainColor": "#888", "domainWidth": 2}}
        },
        "layer": [
          {
            "mark": {"type": "errorbar", "ticks": {"size": 12}, "thickness": 1, "color": "#444"},
            "encoding": {"yError": {"field": "err"}}
          },
          {
            "mark": {"type": "bar", "stroke": "#333", "strokeWidth": 1},
            "encoding": {
              "fill": {"condition": {"test": "datum.grp === 'TKO'", "value": "white"}, "value": "#bdbdbd"}
            }
          },
          {
            "mark": {"type": "rule", "color": "black", "strokeWidth": 1},
            "encoding": {"x": {"value": 0}, "x2": {"value": "width"}, "y": {"datum": 0}}
          },
          {
            "mark": {"type": "text", "fontSize": 13, "fontWeight": "bold", "baseline": "alphabetic", "align": "center", "color": "black"},
            "encoding": {"y": {"datum": 85}, "text": {"field": "sig"}}
          }
        ]
      }
    ]
  }
]
}
